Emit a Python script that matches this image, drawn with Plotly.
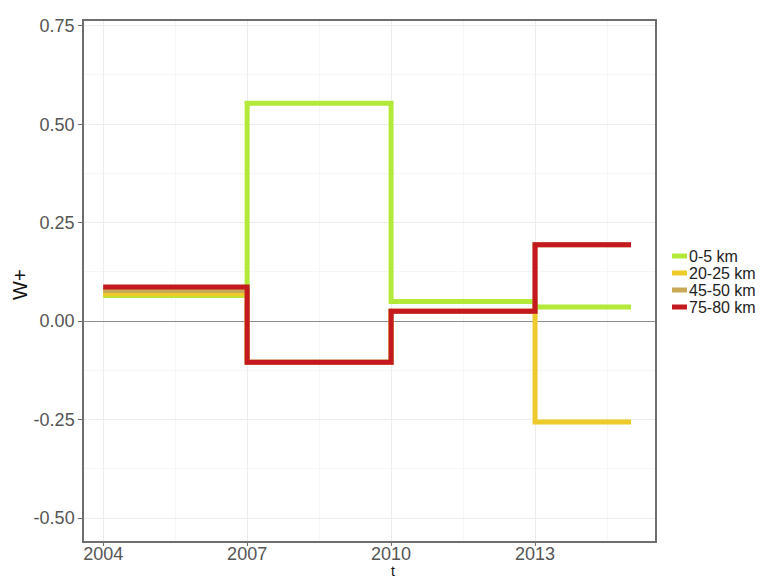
import plotly.graph_objects as go

t = [2004, 2007, 2010, 2013, 2015]
series_names = ["0-5 km", "20-25 km", "45-50 km", "75-80 km"]
w_0_5 = [0.065, 0.553, 0.050, 0.036, 0.036]
w_20_25 = [0.069, -0.104, 0.025, -0.256, -0.256]
w_45_50 = [0.078, -0.104, 0.025, 0.194, 0.194]
w_75_80 = [0.087, -0.104, 0.025, 0.194, 0.194]
series_values = [w_0_5, w_20_25, w_45_50, w_75_80]
colors = ["#B3EA3A", "#EDCB2A", "#C9A955", "#C3191F"]

x_ticks = [2004, 2007, 2010, 2013]
x_minor = [2005.5, 2008.5, 2011.5, 2014.5]
y_ticks = [-0.50, -0.25, 0.00, 0.25, 0.50, 0.75]
y_tick_labels = ["-0.50", "-0.25", "0.00", "0.25", "0.50", "0.75"]
y_minor = [-0.375, -0.125, 0.125, 0.375, 0.625]

FONT = "Liberation Sans, Arial, sans-serif"

L, R, T, B = 84, 655, 21, 541
PW, PH = R - L, B - T


def px(x):
    return (x - L) / PW


def py(y):
    return (B - y) / PH


fig = go.Figure()
for name, vals, col in zip(series_names, series_values, colors):
    fig.add_trace(go.Scatter(x=t, y=vals, mode="lines", name=name,
                             line=dict(color=col, width=5, shape="hv"),
                             showlegend=False))

# manual legend (ggplot-like compact keys)
for i, (name, col) in enumerate(zip(series_names, colors)):
    yy = py(256 + 17 * i)
    fig.add_shape(type="line", xref="paper", yref="paper",
                  x0=px(672), x1=px(687), y0=yy, y1=yy,
                  line=dict(color=col, width=5))
    fig.add_annotation(xref="paper", yref="paper", x=px(688), y=yy,
                       text=name, showarrow=False, xanchor="left", yanchor="middle",
                       font=dict(family=FONT, size=16, color="#222222"),
                       height=16, borderpad=0)

# axis titles
fig.add_annotation(xref="paper", yref="paper", x=px(393), y=py(580),
                   text="t", showarrow=False, xanchor="center", yanchor="bottom",
                   font=dict(family=FONT, size=14, color="#111111"), borderpad=0)
fig.add_annotation(xref="paper", yref="paper", x=px(20), y=py(285),
                   text="W+", showarrow=False, textangle=-90, xanchor="center", yanchor="middle",
                   font=dict(family=FONT, size=20, color="#111111"))

fig.update_layout(
    width=774, height=580,
    margin=dict(l=L, r=774 - R, t=T, b=580 - B, autoexpand=False),
    paper_bgcolor="white", plot_bgcolor="white",
    font=dict(family=FONT, size=19, color="#555555"),
    showlegend=False,
)
fig.update_xaxes(range=[2003.6, 2015.5], tickvals=x_ticks, ticktext=[str(v) for v in x_ticks],
                 automargin=False, ticklabelstandoff=-7,
                 showgrid=True, gridcolor="#EDEDED", gridwidth=1,
                 minor=dict(tickvals=x_minor, showgrid=True, gridcolor="#F6F6F6", gridwidth=1),
                 showline=True, linecolor="#6E6E6E", linewidth=1.5, mirror=True,
                 ticks="outside", ticklen=3, tickcolor="#6E6E6E", zeroline=False,
                 tickfont=dict(size=18, color="#555555"))
fig.update_yaxes(range=[-0.558, 0.762], tickvals=y_ticks, ticktext=y_tick_labels,
                 automargin=False,
                 showgrid=True, gridcolor="#EDEDED", gridwidth=1,
                 minor=dict(tickvals=y_minor, showgrid=True, gridcolor="#F6F6F6", gridwidth=1),
                 showline=True, linecolor="#6E6E6E", linewidth=1.5, mirror=True,
                 ticks="outside", ticklen=4, tickcolor="#6E6E6E",
                 zeroline=True, zerolinecolor="#8C8C8C", zerolinewidth=1,
                 tickfont=dict(size=18, color="#555555"))

fig.write_html("out.html", config={"displayModeBar": False},
               post_script="document.body.style.margin='0';document.body.style.padding='0';")
